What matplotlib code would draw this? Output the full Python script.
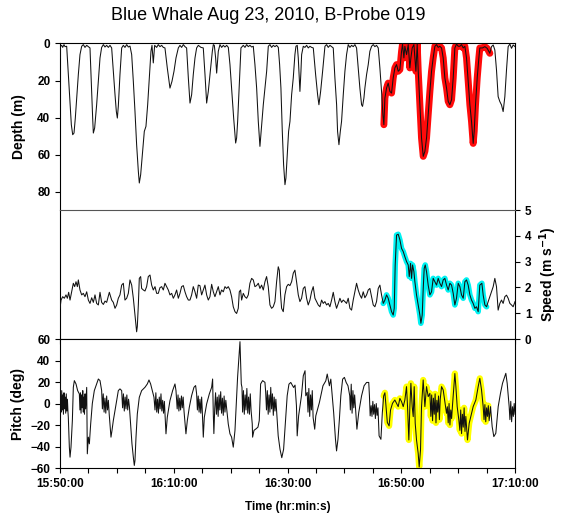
import matplotlib
matplotlib.use("Agg")
import numpy as np
import matplotlib.pyplot as plt
from matplotlib.ticker import FixedLocator, MultipleLocator

plt.rcParams["font.family"] = ["Liberation Sans", "DejaVu Sans"]

# time axis: minutes after 15:50:00
time_ticks = [0, 20, 40, 60, 80]
time_labels = ["15:50:00", "16:10:00", "16:30:00", "16:50:00", "17:10:00"]

# highlighted stretch in each panel (minutes)
depth_hl = (56.9, 75.6)
speed_hl = (56.8, 75.1)
pitch_hl = (56.9, 75.3)

depth_t = [0, 0.06, 0.29, 0.47, 0.7, 0.88, 1.17, 1.46, 1.76, 1.99, 2.23, 2.46, 2.69, 2.93, 3.22, 3.51, 3.81,
           4.1, 4.39, 4.69, 4.98, 5.27, 5.51, 5.74, 5.86, 6.09, 6.44, 6.74, 7.03, 7.32, 7.62, 7.91, 8.2, 8.5,
           8.79, 9.08, 9.37, 9.67, 9.9, 10.08, 10.25, 10.54, 10.84, 11.13, 11.42, 11.72, 12.01, 12.3, 12.6,
           12.89, 13.18, 13.47, 13.77, 13.94, 14.18, 14.47, 14.82, 15.11, 15.41, 15.7, 15.99, 16.17, 16.4,
           16.64, 16.99, 17.28, 17.57, 17.87, 18.16, 18.45, 18.86, 19.33, 19.68, 20.04, 20.39, 20.8, 21.09,
           21.38, 21.68, 21.97, 22.26, 22.56, 22.85, 23.14, 23.43, 23.73, 24.02, 24.32, 24.78, 25.19, 25.49,
           25.78, 26.07, 26.37, 26.78, 26.95, 27.13, 27.36, 27.54, 27.83, 28.12, 28.42, 28.71, 29.0, 29.3,
           29.59, 29.88, 30.17, 30.53, 30.88, 31.05, 31.23, 31.52, 31.81, 32.22, 32.52, 32.81, 33.1, 33.4,
           33.69, 33.98, 34.27, 34.57, 34.86, 35.15, 35.45, 35.74, 36.03, 36.33, 36.62, 36.91, 37.2, 37.5,
           37.79, 38.08, 38.38, 38.61, 38.84, 39.08, 39.31, 39.55, 39.72, 39.96, 40.19, 40.43, 40.72, 41.01,
           41.3, 41.48, 41.71, 41.89, 42.18, 42.36, 42.48, 42.77, 43.06, 43.36, 43.65, 43.94, 44.23, 44.53,
           44.94, 45.29, 45.52, 45.82, 46.17, 46.58, 46.87, 47.16, 47.46, 47.75, 48.04, 48.33, 48.63, 48.8,
           49.04, 49.28, 49.5, 49.8, 50.09, 50.38, 50.67, 50.97, 51.26, 51.55, 51.85, 52.14, 52.43, 52.72,
           53.02, 53.19, 53.43, 53.6, 53.9, 54.19, 54.48, 54.78, 55.07, 55.36, 55.65, 55.95, 56.24, 56.53,
           56.77, 56.94, 57.12, 57.41, 57.7, 58.0, 58.29, 58.58, 58.88, 59.17, 59.46, 59.75, 60.05, 60.22,
           60.46, 60.63, 60.93, 61.22, 61.51, 61.69, 61.92, 62.22, 62.39, 62.57, 62.8, 62.98, 63.27, 63.56,
           63.86, 64.15, 64.44, 64.73, 65.03, 65.32, 65.61, 65.91, 66.2, 66.49, 66.78, 67.08, 67.37, 67.66,
           67.96, 68.25, 68.54, 68.84, 69.13, 69.42, 69.71, 70.01, 70.3, 70.59, 70.89, 71.18, 71.47, 71.77,
           72.06, 72.35, 72.64, 72.82, 73.05, 73.35, 73.64, 73.81, 74.28, 74.69, 75.1, 75.57, 75.86, 76.16,
           76.45, 76.74, 77.03, 77.33, 77.62, 77.91, 78.21, 78.5, 78.79, 79.09, 79.38, 79.67, 80.0]
depth_m = [7.8, 1.5, 1.0, 2.1, 0.6, 1.7, 1.5, 16.8, 33.1, 43.9, 49.3, 48.4, 40.3, 29.5, 16.8, 6.0, 1.5,
           0.6, 2.1, 1.0, 1.7, 2.4, 22.3, 40.3, 48.4, 45.7, 33.1, 20.5, 7.8, 2.1, 0.6, 1.9, 1.0, 2.1,
           1.0, 2.4, 15.0, 27.7, 36.7, 40.3, 33.9, 16.8, 2.4, 1.0, 2.1, 0.6, 1.9, 1.4, 6.0,
           20.5, 36.7, 54.7, 69.1, 75.4, 70.9, 60.1, 47.5, 44.8, 33.1, 18.6, 4.2, 1.0, 10.5,
           1.0, 2.1, 0.6, 1.7, 1.0, 2.1, 2.4, 13.2, 24.1, 20.5, 15.0, 7.8, 2.4, 1.0,
           2.1, 0.6, 1.7, 2.4, 18.6, 32.2, 27.7, 16.8, 7.8, 2.4, 1.0, 2.1, 2.4, 16.8,
           32.2, 25.9, 16.8, 4.2, 0.6, 1.0, 7.8, 16.0, 4.2, 0.6, 2.1, 1.0, 1.9, 1.0,
           2.1, 11.4, 24.1, 40.3, 53.8, 51.1, 42.1, 22.3, 2.4, 1.0, 2.1, 0.6, 1.7, 1.0,
           1.9, 1.5, 11.4, 24.1, 42.1, 55.6, 43.9, 33.1, 24.1, 15.0, 1.5, 0.6, 2.1, 1.0,
           1.7, 1.0, 2.1, 11.4, 24.1, 47.5, 65.5, 76.3, 72.7, 60.1, 47.5, 42.1, 27.7, 18.6,
           6.0, 1.5, 1.0, 7.8, 25.9, 15.0, 6.0, 1.5, 2.1, 1.0, 2.4, 1.5, 2.1, 2.4,
           16.8, 27.7, 33.1, 25.9, 15.0, 1.5, 0.6, 2.1, 1.0, 1.7, 2.4, 18.6, 33.1, 47.5,
           54.7, 47.5, 42.1, 27.7, 15.0, 6.0, 0.6, 2.1, 1.0, 1.7, 0.6, 2.4, 13.2, 24.1,
           33.1, 34.0, 29.5, 24.1, 16.8, 11.4, 4.2, 1.5, 0.6, 1.7, 1.0, 2.4, 13.2, 25.9,
           38.5, 43.9, 29.5, 24.1, 21.4, 25.9, 26.8, 18.6, 13.2, 11.4, 15.0, 14.1, 4.2, 0.3,
           7.8, 1.5, 6.0, 0.6, 13.2, 7.8, 2.4, 0.6, 7.8, 15.0, 0.3, 15.0, 33.1, 51.1,
           61.0, 58.3, 51.1, 38.5, 25.9, 15.0, 7.8, 1.5, 0.6, 2.1, 1.5, 2.4, 7.8, 18.6,
           24.1, 31.3, 33.1, 30.4, 18.6, 2.4, 0.3, 1.5, 1.5, 0.6, 2.4, 1.5, 7.8, 20.5,
           33.1, 42.1, 54.0, 47.5, 33.1, 18.6, 7.8, 2.4, 2.4, 1.7, 2.6, 5.3, 1.7, 0.8,
           3.5, 14.3, 28.7, 31.4, 33.2, 36.8, 28.7, 14.3, 1.7, 0.3, 2.6, 0.8, 1.7]

speed_t = [0, 0.18, 0.47, 0.76, 1.05, 1.29, 1.52, 1.76, 2.05, 2.34, 2.58, 2.81, 3.05, 3.22, 3.51, 3.81, 4.1,
           4.39, 4.69, 4.98, 5.27, 5.57, 5.86, 6.15, 6.44, 6.74, 7.03, 7.32, 7.62, 7.91, 8.2, 8.67, 9.08,
           9.37, 9.67, 9.96, 10.25, 10.54, 10.84, 11.13, 11.42, 11.72, 12.01, 12.3, 12.6, 12.89, 13.18,
           13.36, 13.47, 13.59, 13.77, 13.94, 14.18, 14.35, 14.65, 14.94, 15.23, 15.52, 15.82, 16.11,
           16.4, 16.7, 16.99, 17.28, 17.57, 17.87, 18.16, 18.45, 18.75, 19.04, 19.33, 19.63, 19.92,
           20.21, 20.5, 20.8, 21.09, 21.38, 21.68, 21.97, 22.26, 22.56, 22.85, 23.14, 23.43, 23.73,
           24.02, 24.31, 24.6, 24.9, 25.19, 25.48, 25.78, 26.07, 26.36, 26.66, 26.95, 27.24, 27.53,
           27.83, 28.12, 28.41, 28.71, 29.0, 29.29, 29.58, 29.88, 30.17, 30.46, 30.76, 31.05, 31.34,
           31.52, 31.75, 31.93, 32.22, 32.51, 32.81, 33.1, 33.39, 33.69, 33.98, 34.27, 34.56, 34.86,
           35.15, 35.44, 35.74, 36.03, 36.32, 36.61, 36.91, 37.2, 37.49, 37.79, 38.08, 38.37, 38.55,
           38.78, 38.96, 39.25, 39.54, 39.84, 40.13, 40.42, 40.72, 41.01, 41.3, 41.59, 41.89, 42.18,
           42.47, 42.77, 43.06, 43.35, 43.64, 43.94, 44.23, 44.52, 44.82, 45.11, 45.4, 45.7, 45.99,
           46.28, 46.57, 46.87, 47.16, 47.45, 47.75, 48.04, 48.33, 48.62, 48.92, 49.21, 49.5, 49.8,
           50.09, 50.38, 50.67, 50.97, 51.26, 51.55, 51.85, 52.14, 52.43, 52.72, 53.02, 53.31, 53.6,
           53.9, 54.19, 54.48, 54.78, 55.07, 55.36, 55.65, 55.95, 56.24, 56.53, 56.83, 57.12, 57.41,
           57.7, 58.0, 58.29, 58.58, 58.76, 58.93, 59.17, 59.46, 59.76, 60.05, 60.34, 60.63, 60.93,
           61.22, 61.4, 61.63, 61.81, 61.98, 62.22, 62.39, 62.68, 62.98, 63.27, 63.45, 63.68, 63.86,
           64.03, 64.21, 64.44, 64.73, 65.03, 65.32, 65.61, 65.91, 66.2, 66.49, 66.79, 67.08, 67.37,
           67.66, 67.96, 68.25, 68.54, 68.84, 69.13, 69.42, 69.71, 70.01, 70.3, 70.59, 70.89, 71.18,
           71.47, 71.76, 72.06, 72.35, 72.64, 72.94, 73.23, 73.52, 73.81, 74.17, 74.4, 74.7, 75.0,
           75.28, 75.57, 76.16, 76.45, 76.74, 77.03, 77.33, 77.62, 77.91, 78.21, 78.5, 78.79, 79.09,
           79.38, 79.67, 80.0]
speed_ms = [1.19, 1.51, 1.64, 1.58, 1.71, 1.58, 1.81, 1.51, 1.83, 2.16, 2.03, 2.22, 2.03, 2.29, 1.9, 1.71, 1.77,
            1.64, 1.83, 1.51, 1.38, 1.6, 1.42, 1.71, 1.38, 1.32, 1.81, 1.42, 1.34, 1.47, 1.42, 1.81, 1.51,
            1.42, 1.19, 1.32, 1.58, 1.71, 2.09, 2.16, 1.51, 1.58, 1.77, 2.29, 2.09, 1.58, 0.93,
            0.54, 0.28, 0.48, 1.32, 2.35, 2.42, 1.96, 1.9, 1.86, 2.03, 2.42, 2.48, 2.09,
            1.9, 2.03, 1.77, 1.77, 1.99, 2.03, 1.9, 2.16, 2.03, 1.9, 1.71, 1.77, 1.58,
            1.71, 1.9, 1.58, 1.77, 2.03, 2.07, 1.83, 1.64, 1.51, 1.51, 1.71, 2.03, 1.83,
            1.58, 2.09, 2.07, 1.71, 1.9, 2.09, 1.71, 1.51, 1.64, 2.12, 1.83, 1.64, 1.83,
            2.03, 1.71, 1.9, 1.83, 2.03, 1.96, 2.03, 1.9, 1.64, 1.25, 1.06, 0.99, 1.19,
            1.83, 1.9, 1.51, 1.77, 1.64, 1.58, 1.71, 2.16, 2.35, 2.29, 2.03, 2.07, 2.16,
            1.96, 2.09, 1.9, 2.22, 2.42, 2.03, 1.32, 1.19, 1.25, 1.45, 2.22, 2.8, 2.67,
            1.71, 1.19, 1.06, 1.71, 2.03, 2.12, 2.07, 2.22, 2.55, 2.67, 2.22, 1.71, 1.45,
            1.58, 1.96, 2.03, 1.58, 1.32, 1.51, 1.83, 2.03, 1.58, 1.45, 1.32, 1.25, 1.51,
            1.38, 1.45, 1.32, 1.38, 1.25, 1.51, 1.81, 1.45, 1.19, 1.38, 1.58, 1.42, 1.51,
            1.45, 1.38, 1.58, 1.19, 1.12, 1.51, 1.83, 2.16, 1.9, 1.71, 1.58, 1.83, 1.6,
            1.71, 1.9, 1.96, 1.64, 1.32, 1.25, 1.45, 1.96, 2.09, 1.71, 1.38, 1.51, 1.71,
            1.58, 1.32, 1.06, 0.93, 1.19, 2.87, 4.03, 4.06, 3.84, 3.51, 3.39, 3.19, 3.0,
            2.87, 2.42, 2.93, 2.35, 2.87, 2.61, 2.22, 1.71, 1.32, 0.93, 0.61, 0.93, 1.96,
            2.74, 2.87, 2.61, 2.09, 1.71, 1.83, 2.35, 2.22, 2.09, 2.35, 2.16, 2.03, 2.29,
            2.35, 2.09, 1.9, 2.16, 2.09, 1.77, 1.32, 1.58, 2.16, 2.03, 1.71, 1.58, 2.22,
            2.29, 2.09, 1.71, 1.51, 1.38, 1.19, 1.25, 1.06, 2.09, 2.16, 1.7, 1.32, 1.25,
            1.45, 1.64, 2.03, 2.35, 2.03, 1.12, 1.38, 1.51, 1.38, 1.64, 1.7, 1.58, 1.38,
            1.32, 1.25, 1.45]

pitch_t = [0, 0.1, 0.2, 0.3, 0.4, 0.5, 0.6, 0.7, 0.8, 0.9, 1.0, 1.1, 1.2, 1.3, 1.4, 1.46, 1.64, 1.76, 1.93,
           2.17, 2.34, 2.52, 2.81, 3.1, 3.4, 3.5, 3.6, 3.7, 3.8, 3.9, 4.0, 4.1, 4.2, 4.3, 4.4, 4.5, 4.69,
           4.8, 4.98, 5.16, 5.39, 5.68, 6.03, 6.44, 6.74, 7.03, 7.32, 7.45, 7.6, 7.75, 7.9, 8.05, 8.2,
           8.35, 8.5, 8.65, 8.96, 9.14, 9.37, 9.67, 9.96, 10.25, 10.54, 10.84, 11.0, 11.15, 11.3, 11.45,
           11.6, 11.75, 11.9, 12.05, 12.2, 12.48, 12.65, 12.89, 13.06, 13.18, 13.36, 13.59, 13.94, 14.35,
           14.94, 15.35, 15.64, 15.93, 16.23, 16.52, 16.7, 16.85, 17.0, 17.15, 17.3, 17.45, 17.6, 17.75,
           17.9, 18.05, 18.2, 18.35, 18.63, 18.86, 19.33, 19.8, 20.21, 20.39, 20.6, 20.75, 20.9, 21.05,
           21.2, 21.35, 21.5, 21.65, 21.8, 22.14, 22.38, 22.73, 23.14, 23.55, 23.84, 24.02, 24.15, 24.3,
           24.45, 24.6, 24.75, 24.9, 25.0, 25.19, 25.37, 25.78, 26.25, 26.66, 26.83, 26.95, 27.05, 27.2,
           27.35, 27.5, 27.65, 27.8, 27.95, 28.1, 28.25, 28.4, 28.55, 28.7, 28.85, 29.0, 29.15, 29.58,
           29.88, 30.17, 30.46, 30.76, 31.05, 31.22, 31.46, 31.64, 31.75, 31.87, 31.99, 32.1, 32.25,
           32.4, 32.55, 32.7, 32.85, 33.0, 33.15, 33.3, 33.45, 33.6, 33.8, 33.86, 34.1, 34.45, 34.8,
           35.03, 35.27, 35.62, 36.03, 36.16, 36.3, 36.45, 36.6, 36.75, 36.9, 37.05, 37.2, 37.35, 37.5,
           37.65, 37.8, 37.95, 38.36, 38.68, 38.99, 39.31, 39.62, 39.94, 40.25, 40.57, 41.07, 41.32,
           41.57, 41.7, 41.95, 42.45, 42.77, 43.08, 43.21, 43.46, 43.6, 43.75, 43.9, 44.05, 44.2, 44.35,
           44.5, 44.78, 44.97, 45.6, 46.23, 46.73, 46.98, 47.36, 47.61, 47.86, 48.11, 48.43, 48.62,
           48.87, 49.12, 49.37, 49.69, 50.0, 50.31, 50.63, 50.94, 51.05, 51.2, 51.35, 51.5, 51.65, 51.8,
           52.2, 52.52, 53.02, 53.46, 53.9, 54.28, 54.4, 54.53, 54.7, 54.85, 55.0, 55.15, 55.3, 55.45,
           55.6, 55.75, 55.9, 56.1, 56.42, 56.67, 56.9, 57.12, 57.55, 57.86, 58.11, 58.46, 58.87, 59.17,
           59.46, 59.75, 60.05, 60.34, 60.63, 60.92, 61.1, 61.33, 61.51, 61.69, 61.92, 62.1, 62.27,
           62.45, 62.68, 62.97, 63.15, 63.38, 63.56, 63.85, 64.15, 64.44, 64.73, 65.03, 65.2, 65.35,
           65.5, 65.65, 65.8, 65.95, 66.1, 66.25, 66.4, 66.55, 66.7, 66.85, 67.08, 67.37, 67.95, 68.1,
           68.25, 68.4, 68.55, 68.7, 68.85, 69.0, 69.42, 69.6, 69.83, 70.12, 70.3, 70.45, 70.6, 70.75,
           70.9, 71.05, 71.2, 71.35, 71.64, 71.94, 72.35, 72.64, 73.11, 73.52, 73.81, 74.11, 74.4,
           74.55, 74.7, 74.85, 75.0, 75.15, 75.3, 75.45, 75.69, 75.98, 76.27, 76.62, 77.04, 77.44,
           77.8, 78.38, 78.62, 78.97, 79.1, 79.25, 79.4, 79.55, 79.7, 79.85, 80.0]
pitch_deg = [21.3, 5, -8, 12, -6, 8, -10, 10, -5, 6, -9, 9, -7, 4, -8, -12.8, -40.6, -49.9, -40.6,
             -15.9, 15.1, 21.3, 18.2, 12, 8.9, -6, 10, -9, 8, -4, 12, -8, 6, -10, 9, -5, 15,
             -46.8, -31.3, -37.5, -19, 0, 12, 18.2, 22.8, 21.3, 12, -5, 9, -8, 5, -9, 7,
             -6, 3, -10, -31.3, -25, -15.9, -6.6, 2.7, 12, 13.6, 12, -4, 9, -7, 6,
             -5, 8, -6, 4, -3, -25, -37.5, -49.9, -57.6, -53, -31.3, -9.7, 5.8, 12,
             15.1, 18.2, 21.9, 18.2, 12, 5.8, -6, 10, -8, 4, -9, 6, -5, 9,
             -7, 3, -9, 2, -28.2, -12.8, 2.7, 12, 18.2, 12, -5, 8, -7, 5,
             -6, 7, -4, 6, -7, -28.2, -15.9, -3.5, 7.4, 15.1, 16.7, 8.9, -6, 7,
             -8, 4, -9, 6, -5, -31.3, -12.8, -0.4, 8.9, 15.1, 22.8, -9.7, -28, -5,
             10, -10, 6, -12, 8, -6, 11, -9, 5, -11, 7, -8, 3, -19,
             -28.2, -31.3, -40.6, -25.1, 5.8, 24.4, 43, 57.5, 39.9, 18.2, 15.1, -8, 12,
             -10, 8, -6, 14, -9, 6, -10, 9, -7, -19, -31.3, -25, -23.6, -22,
             -15.9, 18.2, 21.3, 19.7, 10.3, -6, 12, -10, 8, -8, 15, -5, 9, -11,
             6, -7, 4, -30.1, -42.6, -50.4, -42.6, -17.7, 7.2, 18, 19.6, 14.9, 17.1,
             -2.2, -30.1, -11.5, 7.2, 25.8, 30.5, 7.2, 10.3, -8, 14, -12, 8, -6, 12,
             -13, -23.9, -11.5, 0.9, 16.5, 21.1, 27.4, 16.5, 22.7, 7.2, -8.4, -33.3, -44.1,
             -33.3, -14.6, 7.2, 22.7, 24.3, 19.6, 16.5, 7.2, -6, 18, -9, 12, -4, 8,
             -23.9, -8.4, 7.2, 16.5, 19.6, 19.6, 7.2, -11.5, -2, -12, 2, -10, -1, -14,
             0, -11, -4, -30.1, -33.3, -8.4, 7, 10, -17.7, -20.8, -6, 0.2, 3.3, 0.2,
             -2.9, 4.8, 1.7, -2.9, 3.3, 15.7, -2.9, -33.9, -2.9, 18.8, -2.9, -12.2, 15.7,
             -18.4, -33.9, -46.3, -59, -43.2, -2.9, 21.9, -2.9, 15.7, 6.4, 9.5, -12, 8,
             -16, 5, -10, 9, -18, 3, -8, 7, -15, 4, 15.7, 12.6, -9.1, -3,
             -18, 0, -20, -6, -14, -2, 27.9, 15.7, -2.9, -15.3, -25, -6, -28, -10,
             -22, -4, -26, -12, -33.9, -18.4, -9.1, -2.9, 3.3, 15.7, 23.4, 12.6, -2.9,
             -15, -1, -17, -4, -12, -2, -16, -2.9, -21.5, -30.8, -27.7, -2.9, 9.5,
             18.8, 28.1, 18.8, -2.9, -15, 2, -17, -3, -12, 0, -10]


def window(t, v, span):
    t = np.asarray(t)
    v = np.asarray(v)
    keep = (t >= span[0]) & (t <= span[1])
    return t[keep], v[keep]


fig = plt.figure(figsize=(5.63, 5.16), dpi=100)
left, width = 0.1066, 0.8082
ax1 = fig.add_axes([left, 0.5930, width, 0.3227])
ax2 = fig.add_axes([left, 0.3430, width, 0.2500])
ax3 = fig.add_axes([left, 0.0930, width, 0.2500])

tick_font = dict(fontsize=8.5, fontweight="bold")
lab_font = dict(fontsize=10, fontweight="bold")
line_kw = dict(color="#111111", lw=0.75, zorder=3)
glow_kw = dict(solid_capstyle="round", solid_joinstyle="round", zorder=2)

# depth
ht, hv = window(depth_t, depth_m, depth_hl)
ax1.plot(ht, hv, color="#ff0a0a", lw=5, **glow_kw)
ax1.plot(depth_t, depth_m, **line_kw)
ax1.set_ylim(90, 0)
ax1.set_yticks([0, 20, 40, 60, 80])
ax1.set_ylabel("Depth (m)", **lab_font)
ax1.yaxis.set_label_coords(-0.075, 0.5)
ax1.spines["bottom"].set_visible(False)

# speed
ht, hv = window(speed_t, speed_ms, speed_hl)
ax2.plot(ht, hv, color="#00f2f2", lw=4, **glow_kw)
ax2.plot(speed_t, speed_ms, **line_kw)
ax2.set_ylim(0, 5)
ax2.set_yticks(range(0, 6))
ax2.yaxis.tick_right()
ax2.yaxis.set_label_position("right")
ax2.set_ylabel(r"Speed (m s$^{\mathbf{-1}}$)", **lab_font)
ax2.yaxis.set_label_coords(1.05, 0.5)
ax2.spines["top"].set_color("#555555")

# pitch
ht, hv = window(pitch_t, pitch_deg, pitch_hl)
ax3.plot(ht, hv, color="#ffff00", lw=4.5, **glow_kw)
ax3.plot(pitch_t, pitch_deg, **line_kw)
ax3.set_ylim(-60, 60)
ax3.set_yticks(range(-60, 61, 20))
ax3.set_ylabel("Pitch (deg)", **lab_font)
ax3.yaxis.set_label_coords(-0.077, 0.5)
ax3.set_xlabel("Time (hr:min:s)", fontsize=8.5, fontweight="bold", labelpad=8)

for ax in (ax1, ax2, ax3):
    ax.set_xlim(0, 80)
    ax.xaxis.set_major_locator(FixedLocator(time_ticks))
    ax.xaxis.set_minor_locator(MultipleLocator(5))
    ax.tick_params(which="both", direction="out", length=3.5, width=0.8)
    for s in ax.spines.values():
        s.set_linewidth(0.8)
    for lab in ax.get_yticklabels():
        lab.set(**tick_font)

ax1.tick_params(axis="x", which="both", bottom=False, labelbottom=False)
ax2.tick_params(axis="x", which="both", labelbottom=False)
ax3.set_xticklabels(time_labels, **tick_font)

fig.text(268 / 563, 1 - 15 / 516, "Blue Whale Aug 23, 2010, B-Probe 019",
         ha="center", va="center", fontsize=13)

fig.savefig("out.png", dpi=100)
